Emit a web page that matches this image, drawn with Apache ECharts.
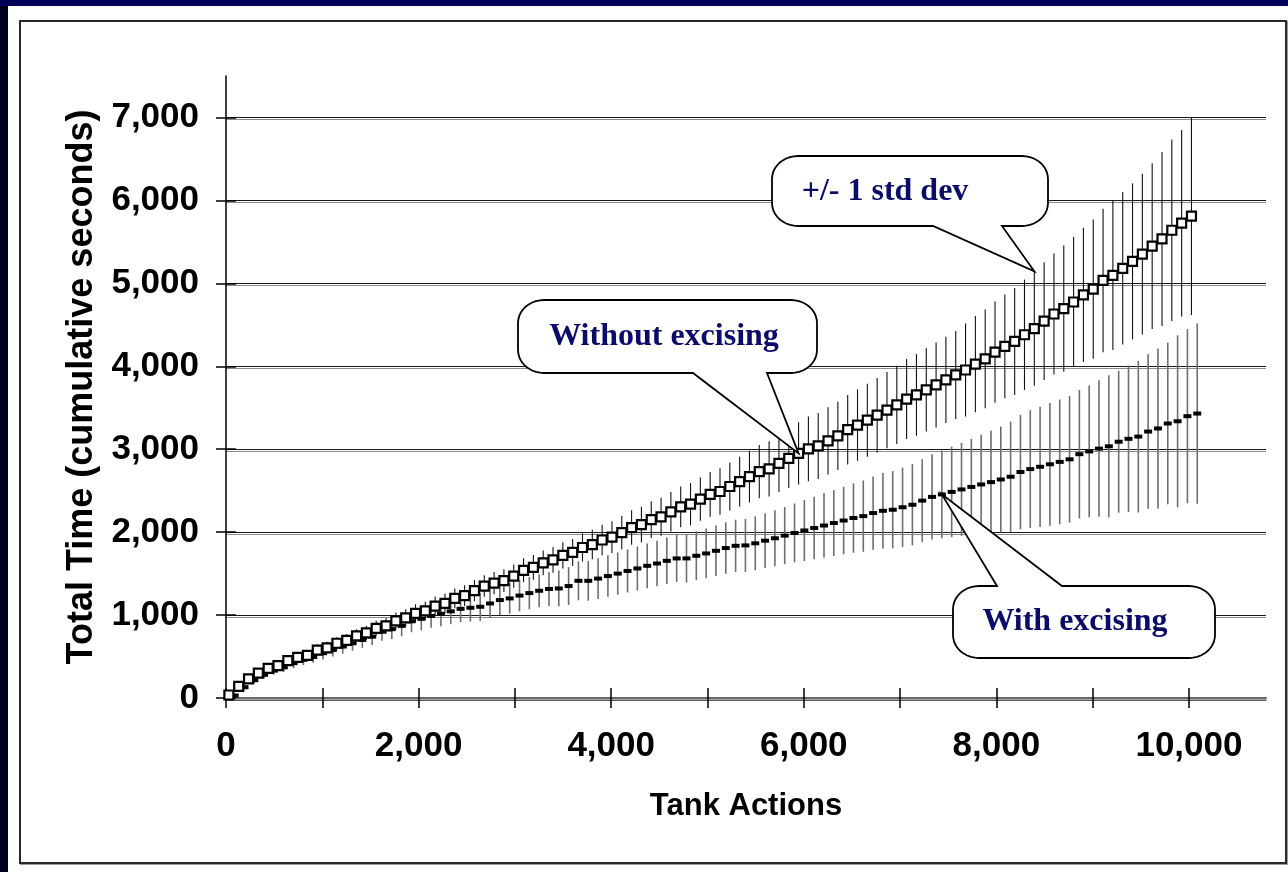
<!DOCTYPE html>
<html><head><meta charset="utf-8">
<script src="https://cdn.jsdelivr.net/npm/echarts@6/dist/echarts.min.js"></script>
<style>
html,body{margin:0;padding:0;width:1288px;height:872px;overflow:hidden;background:#00001e;}
#topbar{position:absolute;left:0;top:0;width:1288px;height:6px;background:#000058;}
#panel{position:absolute;left:8px;top:6px;width:1280px;height:866px;background:#fff;}
#chart{position:absolute;left:19px;top:20px;width:1268px;height:844px;box-sizing:border-box;border:2px solid #2a2a2a;box-shadow:1px 1px 0 #999;background:#fff;}
</style></head>
<body>
<div id="topbar"></div><div id="panel"></div><div id="chart"></div>
<script>
// ---- data ----
const xA = [30,132,234,336,438,540,642,744,846,948,1050,1152,1254,1356,1458,1560,1662,1764,1866,1968,2070,2172,2274,2376,2478,2580,2682,2784,2886,2988,3090,3192,3294,3396,3498,3600,3702,3804,3906,4008,4110,4212,4314,4416,4518,4620,4722,4824,4926,5028,5130,5232,5334,5436,5538,5640,5742,5844,5946,6048,6150,6252,6354,6456,6558,6660,6762,6864,6966,7068,7170,7272,7374,7476,7578,7680,7782,7884,7986,8088,8190,8292,8394,8496,8598,8700,8802,8904,9006,9108,9210,9312,9414,9516,9618,9720,9822,9924,10026];
const yA = [36,140,230,300,357,390,450,490,515,578,
605,660,695,750,785,840,870,930,965,1020,
1050,1108,1141,1201,1235,1295,1350,1385,1415,1470,
1540,1575,1630,1665,1720,1755,1815,1850,1905,1940,
1995,2055,2090,2150,2185,2245,2305,2337,2398,2455,
2490,2550,2610,2670,2730,2762,2830,2890,2950,3005,
3040,3100,3160,3235,3290,3350,3410,3470,3535,3605,
3655,3715,3775,3835,3895,3955,4025,4090,4170,4240,
4300,4380,4455,4545,4630,4695,4775,4860,4930,5035,
5095,5181,5265,5352,5448,5535,5640,5725,5811];
const sdA = [20,30,40,45,50,55,60,62,65,70,
72,75,78,80,85,90,95,100,105,110,
112,115,118,120,125,128,130,135,138,140,
145,148,150,155,158,162,170,178,185,192,
200,208,215,222,230,238,246,255,262,270,
280,290,300,312,322,333,345,357,375,390,
398,405,412,420,430,440,450,460,472,482,
492,502,512,520,530,560,580,595,610,625,
645,665,690,710,730,760,785,810,840,865,
900,920,940,970,1000,1050,1093,1124,1193];
const xB = [90,192,294,396,498,600,702,804,906,1008,1110,1212,1314,1416,1518,1620,1722,1824,1926,2028,2130,2232,2334,2436,2538,2640,2742,2844,2946,3048,3150,3252,3354,3456,3558,3660,3762,3864,3966,4068,4170,4272,4374,4476,4578,4680,4782,4884,4986,5088,5190,5292,5394,5496,5598,5700,5802,5904,6006,6108,6210,6312,6414,6516,6618,6720,6822,6924,7026,7128,7230,7332,7434,7536,7638,7740,7842,7944,8046,8148,8250,8352,8454,8556,8658,8760,8862,8964,9066,9168,9270,9372,9474,9576,9678,9780,9882,9984,10086];
const yB = [30,130,215,280,330,370,420,460,495,540,
580,620,660,700,740,800,830,870,925,955,
990,1015,1045,1075,1088,1100,1140,1181,1201,1235,
1265,1293,1315,1321,1350,1413,1413,1440,1470,1500,
1532,1562,1594,1622,1654,1683,1683,1715,1743,1775,
1808,1835,1840,1865,1897,1926,1958,1990,2020,2050,
2080,2110,2140,2170,2193,2230,2257,2270,2300,2330,
2380,2425,2455,2485,2515,2545,2575,2603,2635,2668,
2725,2760,2788,2818,2847,2878,2940,2973,3007,3035,
3090,3125,3152,3213,3250,3310,3337,3398,3430];
const sdB = [20,30,40,45,50,55,60,65,70,75,
80,85,90,95,100,110,118,125,132,138,
144,150,155,160,165,170,175,180,185,190,
195,200,205,215,228,235,240,245,250,255,
260,265,270,275,280,285,290,295,300,305,
310,315,320,325,330,338,345,355,368,378,
388,398,408,418,430,442,455,465,478,490,
500,515,530,545,560,580,600,620,640,665,
690,710,725,740,752,763,775,795,823,856,
856,883,915,932,964,975,1036,1050,1088];
const yTicks = [0,1000,2000,3000,4000,5000,6000,7000];
const xTicks = [0,1000,2000,3000,4000,5000,6000,7000,8000,9000,10000];
const xLabels = [0,2000,4000,6000,8000,10000];
const callouts = ['+/- 1 std dev','Without excising','With excising'];

// ---- chart ----
const SANS = '"Liberation Sans", Arial, sans-serif';
const SERIF = '"Liberation Serif", "Times New Roman", serif';
const fmt = v => Number(v).toLocaleString('en-US');
const chart = echarts.init(document.getElementById('chart'));
const GRID = {left:205, top:54, width:1040, height:622};
const gridLine = {color:'#1a1a1a', width:1, shadowColor:'rgba(0,0,0,0.45)', shadowBlur:0, shadowOffsetY:2};

function errBars(xs, ys, sds, color, width, z) {
  return {
    type:'custom', silent:true, clip:true, z:z,
    data: xs.map((x,i)=>[x, ys[i]-sds[i], ys[i]+sds[i]]),
    encode:{x:0, y:[1,2]},
    renderItem:(params, api)=>{
      const p1 = api.coord([api.value(0), api.value(1)]);
      const p2 = api.coord([api.value(0), api.value(2)]);
      return {type:'line', shape:{x1:p1[0], y1:p1[1], x2:p2[0], y2:p2[1]},
              style:{stroke:color, lineWidth:width}};
    }
  };
}

chart.setOption({
  animation:false,
  grid:[Object.assign({}, GRID), Object.assign({}, GRID)],
  xAxis:[{
    type:'value', gridIndex:0, min:0, max:10800, interval:1000,
    name:'Tank Actions', nameLocation:'middle', nameGap:93,
    nameTextStyle:{fontFamily:SANS, fontWeight:'bold', fontSize:31, color:'#000'},
    axisLine:{show:true, lineStyle:{color:'#6a6a6a', width:2, shadowColor:'rgba(0,0,0,0.35)', shadowOffsetY:2}},
    axisTick:{show:true, inside:false, length:10, customValues:xTicks, lineStyle:{color:'#000', width:1.5}},
    axisLabel:{customValues:xLabels, formatter:fmt, fontFamily:SANS, fontWeight:'bold', fontSize:35, color:'#000', margin:31,
               textShadowColor:'rgba(0,0,0,0.35)', textShadowOffsetX:1, textShadowOffsetY:1},
    splitLine:{show:false}
  },{
    type:'value', gridIndex:1, min:0, max:10800, interval:1000,
    axisLine:{show:false}, axisLabel:{show:false}, splitLine:{show:false},
    axisTick:{show:true, inside:true, length:10, customValues:xTicks, lineStyle:{color:'#000', width:1.5}}
  }],
  yAxis:[{
    type:'value', gridIndex:0, min:0, max:7500, interval:1000,
    name:'Total Time (cumulative seconds)', nameLocation:'middle', nameGap:124,
    nameTextStyle:{fontFamily:SANS, fontWeight:'bold', fontSize:36, color:'#000'},
    axisLine:{show:true, lineStyle:{color:'#000', width:1.5}},
    axisTick:{show:true, inside:false, length:10, customValues:yTicks, lineStyle:{color:'#000', width:1.5}},
    axisLabel:{customValues:yTicks, formatter:fmt, fontFamily:SANS, fontWeight:'bold', fontSize:35, color:'#000', margin:27},
    splitLine:{show:true, lineStyle:gridLine}
  },{
    type:'value', gridIndex:1, min:0, max:7500, interval:1000,
    axisLine:{show:false}, axisLabel:{show:false}, splitLine:{show:false},
    axisTick:{show:true, inside:true, length:10, customValues:yTicks, lineStyle:{color:'#000', width:1.5}}
  }],
  series:[
    errBars(xB, yB, sdB, '#6e6e6e', 1.6, 2),
    errBars(xA, yA, sdA, '#111', 1.1, 3),
    {type:'scatter', name:'With excising', data:xB.map((x,i)=>[x,yB[i]]), symbol:'rect', symbolSize:[8,4],
     itemStyle:{color:'#000', opacity:1}, z:4, silent:true},
    {type:'scatter', name:'Without excising', data:xA.map((x,i)=>[x,yA[i]]), symbol:'rect', symbolSize:9,
     itemStyle:{color:'#fff', borderColor:'#000', borderWidth:2.2, opacity:1}, z:5, silent:true}
  ]
});

// ---- callouts (boxes are layout; pointer tips come from the data through the axes) ----
const OX = 21, OY = 22;
function arc(pts, cx, cy, rx, ry, a0, a1) {
  const n = 10;
  for (let k = 0; k <= n; k++) {
    const a = (a0 + (a1 - a0) * k / n) * Math.PI / 180;
    pts.push([cx + rx * Math.cos(a), cy + ry * Math.sin(a)]);
  }
}
function bubble(L,T,R,B,b1,b2,tip,top) {
  L-=OX; R-=OX; T-=OY; B-=OY; b1-=OX; b2-=OX;
  const rx = 26, ry = 23;
  const pts = [];
  if (top) { pts.push([b1,T], [tip[0],tip[1]], [b2,T]); }
  arc(pts, R-rx, T+ry, rx, ry, -90, 0);
  arc(pts, R-rx, B-ry, rx, ry, 0, 90);
  if (!top) { pts.push([b2,B], [tip[0],tip[1]], [b1,B]); }
  arc(pts, L+rx, B-ry, rx, ry, 90, 180);
  arc(pts, L+rx, T+ry, rx, ry, 180, 270);
  return {type:'polygon', z:100, silent:true, shape:{points:pts},
          style:{fill:'#fff', stroke:'#000', lineWidth:1.8}};
}
function label(text, cx, cy) {
  return {type:'text', z:101, silent:true, x:cx-OX, y:cy-OY,
          style:{text:text, font:'bold 32px '+SERIF, fill:'#0b0b6a',
                 align:'center', verticalAlign:'middle'}};
}
const tip1 = chart.convertToPixel({gridIndex:0}, [xA[82], yA[82]+sdA[82]]);
const tip2 = chart.convertToPixel({gridIndex:0}, [xA[58], yA[58]]);
const tip3 = chart.convertToPixel({gridIndex:0}, [xB[72], yB[72]]);
chart.setOption({graphic:[
  bubble(772,156,1048,226,933,1002,tip1,false),
  label(callouts[0], 885, 192),
  bubble(518,300,817,373,693,767,tip2,false),
  label(callouts[1], 664, 337),
  bubble(953,586,1215,658,997,1062,tip3,true),
  label(callouts[2], 1075, 622)
]});
</script>
</body></html>
